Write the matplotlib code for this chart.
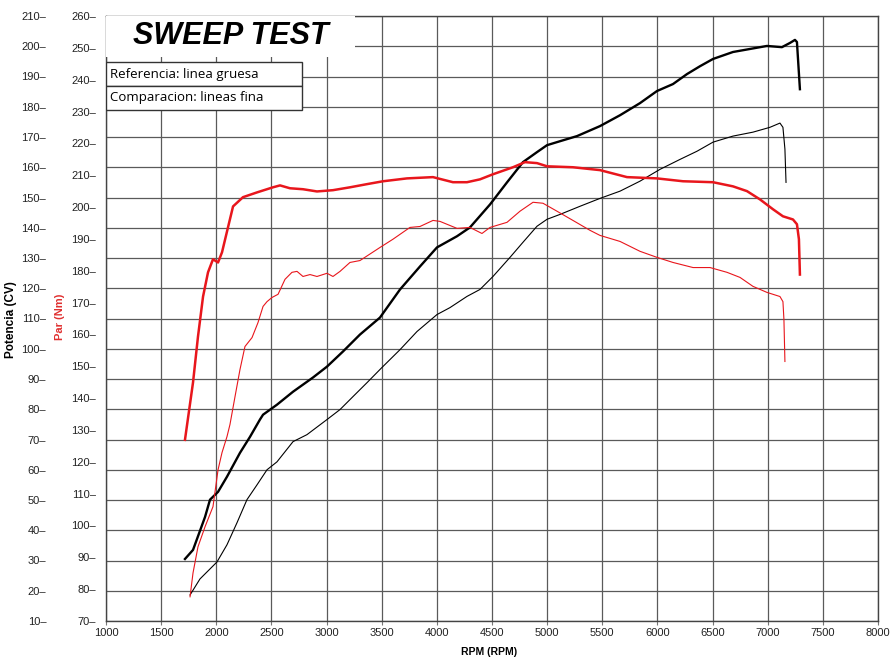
import matplotlib.pyplot as plt
from matplotlib.patches import Rectangle

# reference run (thick lines)
ref_rpm_cv = [1716, 1789, 1898, 1943, 2016, 2097, 2215, 2306, 2396, 2424, 2550, 2696, 2877, 3004,
              3149, 3303, 3484, 3666, 3847, 4001, 4183, 4300, 4482, 4636, 4781, 4908, 4999, 5116,
              5271, 5479, 5661, 5842, 5996, 6141, 6268, 6386, 6504, 6685, 6839, 6993, 7129, 7202,
              7247, 7265, 7292]
ref_cv = [30.5, 33.5, 44.4, 50.1, 52.7, 57.7, 65.6, 70.9, 76.6, 78.2, 81.5, 85.8, 90.5, 94.1,
          99.1, 104.7, 110.3, 119.6, 127.2, 133.5, 137.2, 140.1, 147.7, 155.0, 161.7, 165.0, 167.3, 168.6,
          170.3, 173.6, 177.2, 181.2, 185.2, 187.5, 190.8, 193.4, 195.8, 198.1, 199.1, 200.1, 199.7, 201.1,
          202.1, 201.4, 185.8]

ref_rpm_nm = [1716, 1789, 1834, 1880, 1925, 1970, 2016, 2052, 2106, 2152, 2242, 2369, 2514, 2578,
              2668, 2786, 2913, 3058, 3212, 3367, 3512, 3729, 3965, 4146, 4273, 4391, 4509, 4690,
              4799, 4908, 4999, 5234, 5479, 5724, 5996, 6232, 6504, 6685, 6812, 6930, 7048, 7138,
              7229, 7265, 7283, 7292]
ref_nm = [126.9, 144.9, 159.3, 171.9, 179.5, 183.6, 182.6, 185.8, 193.6, 200.2, 203.1, 204.6, 206.2, 206.8,
          205.9, 205.6, 204.9, 205.3, 206.2, 207.2, 208.1, 209.0, 209.4, 207.8, 207.8, 208.7, 210.3, 212.5,
          214.1, 213.8, 212.8, 212.5, 211.6, 209.4, 209.0, 208.1, 207.8, 206.5, 205.0, 202.4, 199.3, 197.1,
          196.1, 194.6, 189.9, 178.8]

# comparison run (thin lines)
cmp_rpm_cv = [1762, 1852, 2006, 2097, 2188, 2278, 2369, 2460, 2550, 2696, 2822, 3004, 3122, 3240,
              3367, 3502, 3666, 3820, 4001, 4119, 4273, 4391, 4509, 4663, 4781, 4908, 4999, 5116,
              5298, 5479, 5661, 5842, 6023, 6205, 6359, 6504, 6685, 6866, 7020, 7111, 7138, 7156, 7166]
cmp_cv = [18.6, 23.9, 29.5, 35.2, 42.5, 50.1, 55.0, 60.0, 62.6, 69.3, 71.6, 76.6, 79.9, 84.2,
          88.8, 93.8, 99.7, 105.7, 111.3, 113.6, 117.3, 119.6, 123.9, 130.2, 135.2, 140.5, 142.8, 144.4,
          147.1, 149.7, 152.1, 155.4, 159.3, 162.6, 165.3, 168.3, 170.3, 171.6, 173.2, 174.6, 173.2, 166.0, 155.0]

cmp_rpm_nm = [1762, 1789, 1834, 1898, 1970, 2016, 2052, 2097, 2124, 2170, 2215, 2260, 2324, 2378,
              2424, 2460, 2505, 2560, 2623, 2686, 2732, 2786, 2850, 2913, 3004, 3058, 3122, 3212,
              3303, 3484, 3602, 3756, 3847, 3965, 4028, 4183, 4300, 4409, 4482, 4636, 4754, 4872,
              4962, 5089, 5234, 5388, 5479, 5661, 5842, 5996, 6141, 6323, 6477, 6631, 6749, 6866,
              6993, 7111, 7138, 7147, 7156]
cmp_nm = [77.6, 85.1, 93.3, 99.6, 105.9, 117.5, 122.9, 127.9, 131.7, 140.5, 149.0, 156.2, 159.0, 163.7,
          168.8, 170.3, 171.6, 172.6, 177.3, 179.5, 179.8, 178.2, 178.8, 178.2, 179.2, 178.2, 179.8, 182.6,
          183.2, 187.3, 189.9, 193.6, 193.9, 195.8, 195.5, 193.3, 193.6, 191.7, 193.6, 195.2, 198.7, 201.5,
          201.2, 198.7, 195.8, 192.7, 191.1, 189.2, 186.1, 184.2, 182.6, 181.0, 181.0, 179.5, 177.9, 175.1,
          173.2, 171.9, 170.3, 164.7, 151.5]

rpm_ticks = list(range(1000, 8001, 500))
cv_ticks = list(range(10, 211, 10))
nm_ticks = list(range(70, 261, 10))

RED = '#e8161c'
plt.rcParams['font.family'] = 'Liberation Sans'

fig = plt.figure(figsize=(8.93, 6.63), dpi=100)
ax = fig.add_axes([106 / 893, 42 / 663, 772 / 893, 605 / 663])
ax.set_xlim(1000, 8000)
ax.set_ylim(10, 210)
ax.set_xticks(rpm_ticks)
ax.set_xticklabels([str(v) for v in rpm_ticks], fontsize=8, color='#222')
ax.set_yticks(cv_ticks)
ax.set_yticklabels([f"{v}\u2013" for v in cv_ticks], fontsize=8, color='#222')
ax.tick_params(axis='y', length=0, pad=43)
ax.tick_params(axis='x', length=3, color='#777', pad=2)
ax.grid(True, color='#5a5a5a', lw=0.9)
for s in ax.spines.values():
    s.set_color('#444')
    s.set_linewidth(1.0)

ax.plot(ref_rpm_cv, ref_cv, color='black', lw=1.7, zorder=3)
ax.plot(cmp_rpm_cv, cmp_cv, color='black', lw=0.8, zorder=3)

ax2 = ax.twinx()
ax2.set_ylim(70, 260)
ax2.set_yticks(nm_ticks)
ax2.yaxis.tick_left()
ax2.set_yticklabels([f"{v}\u2013" for v in nm_ticks], fontsize=8, color='#222')
ax2.tick_params(axis='y', length=0, pad=7)
for s in ax2.spines.values():
    s.set_visible(False)
ax2.plot(ref_rpm_nm, ref_nm, color=RED, lw=1.8, zorder=3)
ax2.plot(cmp_rpm_nm, cmp_nm, color=RED, lw=0.8, zorder=3)

# title block and legend boxes
ax2.add_patch(Rectangle((0.0, 0.9322), 0.3225, 0.0678, transform=ax.transAxes,
                        facecolor='white', edgecolor='none', zorder=4, clip_on=False))
ax2.text(0.162, 0.967, 'SWEEP TEST', transform=ax.transAxes, fontsize=22, fontweight='bold',
         style='italic', ha='center', va='center', zorder=5)
ax2.add_patch(Rectangle((0.0, 0.8843), 0.2539, 0.0397, transform=ax.transAxes,
                        facecolor='white', edgecolor='#333', lw=1, zorder=4))
ax2.add_patch(Rectangle((0.0, 0.8446), 0.2539, 0.0397, transform=ax.transAxes,
                        facecolor='white', edgecolor='#333', lw=1, zorder=4))
ax2.text(0.005, 0.904, 'Referencia: linea gruesa', transform=ax.transAxes, fontsize=9.5,
         family='Open Sans', ha='left', va='center', zorder=5)
ax2.text(0.005, 0.8645, 'Comparacion: lineas fina', transform=ax.transAxes, fontsize=9.5,
         family='Open Sans', ha='left', va='center', zorder=5)

fig.text(11 / 893, 1 - 320 / 663, 'Potencia (CV)', rotation=90, fontsize=8.5, fontweight='bold',
         ha='center', va='center')
fig.text(60 / 893, 1 - 317 / 663, 'Par (Nm)', rotation=90, fontsize=8, fontweight='bold',
         color='#e03030', ha='center', va='center')
fig.text(489 / 893, 1 - 652 / 663, 'RPM (RPM)', fontsize=7.5, fontweight='bold',
         ha='center', va='center')

fig.savefig('out.png', dpi=100, facecolor='white')
